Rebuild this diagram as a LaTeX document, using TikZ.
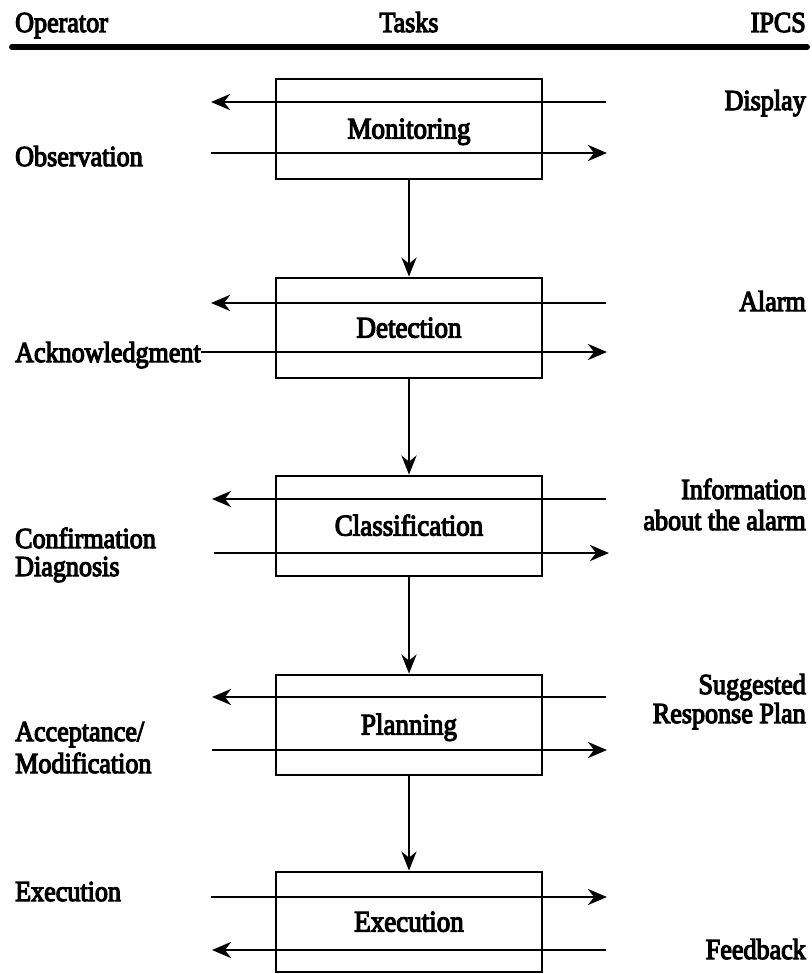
\documentclass[tikz,border=0pt]{standalone}
\usepackage{fontspec}
\setmainfont{Liberation Serif}[FakeStretch=0.9, RawFeature={embolden=4}]
\usetikzlibrary{arrows.meta}

\tikzset{
  lbl/.style={font=\fontsize{29}{32}\selectfont, inner sep=0pt},
  taskbox/.style={draw, line width=2.8pt, minimum width=266pt, minimum height=100pt,
    inner sep=0pt, text height=19pt, text depth=0pt, font=\fontsize{30}{32}\selectfont},
  flow/.style={line width=2.8pt, -{Stealth[length=19pt,width=16pt,inset=6pt]}},
  downflow/.style={line width=2.8pt, -{Stealth[length=19pt,width=15pt,inset=6pt]}},
  rule/.style={line width=6pt, line cap=round}
}

\begin{document}
\begin{tikzpicture}[x=1pt,y=-1pt]
\useasboundingbox (0,0) rectangle (811,974);

% column headings and heavy rule
\node[lbl, anchor=base west] (hop) at (15,32) {Operator};
\node[lbl, anchor=base] (hta) at (409,32) {Tasks};
\node[lbl, anchor=base east] (hip) at (806,32) {IPCS};
\coordinate (ruleL) at (12,47);
\coordinate (ruleR) at (807,47);
\draw[rule] (ruleL) -- (ruleR);

% task boxes
\node[taskbox] (mon) at (409,129) {Monitoring};
\node[taskbox] (det) at (409,328) {Detection};
\node[taskbox] (cla) at (409,526) {Classification};
\node[taskbox] (pla) at (409,725) {Planning};
\node[taskbox] (exe) at (409,922) {Execution};

% sequence of tasks
\draw[downflow] (mon.south) -- (det.north);
\draw[downflow] (det.south) -- (cla.north);
\draw[downflow] (cla.south) -- (pla.north);
\draw[downflow] (pla.south) -- (exe.north);

% operator side labels
\node[lbl, anchor=base west] (obs) at (15,166) {Observation};
\node[lbl, anchor=base west] (ack) at (15,362) {Acknowledgment};
\node[lbl, anchor=base west] (conf) at (15,548) {Confirmation};
\node[lbl, anchor=base west] (diag) at (15,576) {Diagnosis};
\node[lbl, anchor=base west] (acc) at (15,741) {Acceptance/};
\node[lbl, anchor=base west] (mod) at (15,773) {Modification};
\node[lbl, anchor=base west] (exo) at (15,901) {Execution};

% IPCS side labels
\node[lbl, anchor=base east] (disp) at (806,110) {Display};
\node[lbl, anchor=base east] (alarm) at (806,311) {Alarm};
\node[lbl, anchor=base east] (info) at (806,499) {Information};
\node[lbl, anchor=base east] (about) at (806,530) {about the alarm};
\node[lbl, anchor=base east] (sugg) at (806,694) {Suggested};
\node[lbl, anchor=base east] (resp) at (806,723) {Response Plan};
\node[lbl, anchor=base east] (feed) at (806,959) {Feedback};

% ends of the horizontal flows
\coordinate (monAL) at (211,102);  \coordinate (monAR) at (606,102);
\coordinate (monBL) at (211,153);  \coordinate (monBR) at (607,153);
\coordinate (detAL) at (211,303);  \coordinate (detAR) at (606,303);
\coordinate (detBR) at (607,352);
\coordinate (claAL) at (212,499);  \coordinate (claAR) at (606,499);
\coordinate (claBL) at (214,553);  \coordinate (claBR) at (609,553);
\coordinate (plaAL) at (212,697);  \coordinate (plaAR) at (606,697);
\coordinate (plaBL) at (212,750);  \coordinate (plaBR) at (607,750);
\coordinate (exeAL) at (211,897);  \coordinate (exeAR) at (607,897);
\coordinate (exeBL) at (212,950);  \coordinate (exeBR) at (606,950);

% information flows through each task
\draw[flow] (monAR) -- (monAL);
\draw[flow] (monBL) -- (monBR);
\draw[flow] (detAR) -- (detAL);
\draw[flow] (ack.east |- detBR) -- (detBR);
\draw[flow] (claAR) -- (claAL);
\draw[flow] (claBL) -- (claBR);
\draw[flow] (plaAR) -- (plaAL);
\draw[flow] (plaBL) -- (plaBR);
\draw[flow] (exeAL) -- (exeAR);
\draw[flow] (exeBR) -- (exeBL);
\end{tikzpicture}
\end{document}
